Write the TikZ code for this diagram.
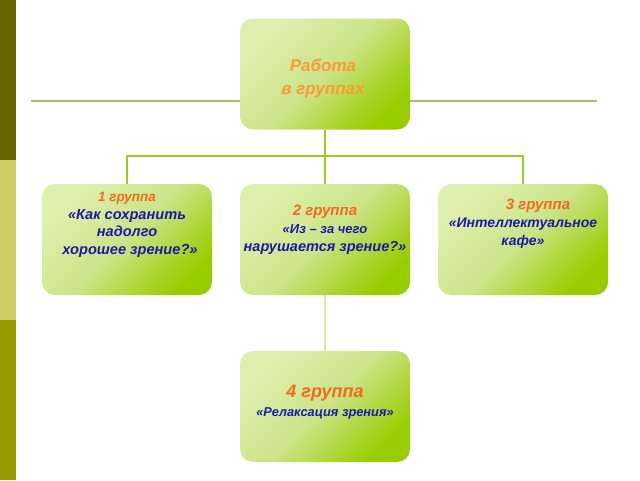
\documentclass[tikz,border=0pt]{standalone}
\usepackage{fontspec}
\setmainfont{Liberation Sans}
\usetikzlibrary{positioning}
\definecolor{barTop}{HTML}{666600}
\definecolor{barMid}{HTML}{CCCC66}
\definecolor{barLow}{HTML}{999900}
\definecolor{ruleCol}{HTML}{B4B86A}
\definecolor{treeCol}{HTML}{99CC22}
\definecolor{linkCol}{HTML}{D4EAA0}
\definecolor{boxLight}{HTML}{DFF0AE}
\definecolor{boxMid}{HTML}{CBE488}
\definecolor{boxDark}{HTML}{99CC00}
\definecolor{titleCol}{HTML}{FF9933}
\definecolor{groupCol}{HTML}{F26B1D}
\definecolor{quoteCol}{HTML}{1A1AA6}
\tikzset{
  box/.style={rounded corners=13pt, minimum width=170pt, minimum height=111pt, inner sep=0pt,
    top color=boxLight, bottom color=boxDark, middle color=boxMid, shading angle=45},
  boxtext/.style={align=center, inner sep=0pt, font=\bfseries\itshape},
  tree/.style={draw=treeCol, line width=2.8pt},
  link/.style={draw=linkCol, line width=2.4pt},
  rule/.style={draw=ruleCol, line width=1.8pt}
}
\begin{document}
\begin{tikzpicture}[x=1pt,y=-1pt]
	\useasboundingbox (0,0) rectangle (640,480);
	% side bar
	\fill[barTop] (0,0) rectangle (16,160);
	\fill[barMid] (0,160) rectangle (16,320);
	\fill[barLow] (0,320) rectangle (16,480);
	
	\coordinate (ruleL) at (31,101);
	\coordinate (ruleR) at (597,101);
	\draw[rule] (ruleL) -- (ruleR);
	
	\node (top) [box] at (325,74) {};
	\node (g1) [box] at (127,239.5) {};
	\node (g2) [box] at (325,239.5) {};
	\node (g3) [box] at (523,239.5) {};
	\node (g4) [box] at (325,406.5) {};
	
	\coordinate (fork) at (325,156);
	\draw[tree] (top.south) -- (fork);
	\draw[tree] (fork) -| (g1.north);
	\draw[tree] (fork) -- (g2.north);
	\draw[tree] (fork) -| (g3.north);
	\draw[link] (g2.south) -- (g4.north);
	
	\node (topText) [boxtext, text=titleCol, font=\fontsize{17}{23}\bfseries\itshape] at (323,79) {Работа\\в группах};
	\node (g1Text) [boxtext, font=\fontsize{14.6}{17.7}\bfseries\itshape] at (127,225)
		{\textcolor{groupCol}{\fontsize{13.5}{17.7}\selectfont 1 группа}\\
		 \textcolor{quoteCol}{«Как сохранить}\\
		 \textcolor{quoteCol}{надолго}\\
		 \textcolor{quoteCol}{\hspace*{6pt}хорошее зрение?»}};
	\node (g2Text) [boxtext, font=\fontsize{13}{18}\bfseries\itshape] at (325,230)
		{\textcolor{groupCol}{\fontsize{15}{18}\selectfont 2 группа}\\
		 \textcolor{quoteCol}{«Из – за чего}\\
		 \textcolor{quoteCol}{\fontsize{14.5}{18}\selectfont нарушается зрение?»}};
	\node (g3Text) [boxtext, font=\fontsize{14}{18}\bfseries\itshape] at (523,224)
		{\textcolor{groupCol}{\fontsize{15}{18}\selectfont\hspace*{30pt}3 группа}\\
		 \textcolor{quoteCol}{«Интеллектуальное}\\
		 \textcolor{quoteCol}{кафе»}};
	\node (g4Text) [boxtext, font=\fontsize{12.8}{19}\bfseries\itshape] at (325,402)
		{\textcolor{groupCol}{\fontsize{18}{19}\selectfont 4 группа}\\
		 \textcolor{quoteCol}{«Релаксация зрения»}};
\end{tikzpicture}
\end{document}
